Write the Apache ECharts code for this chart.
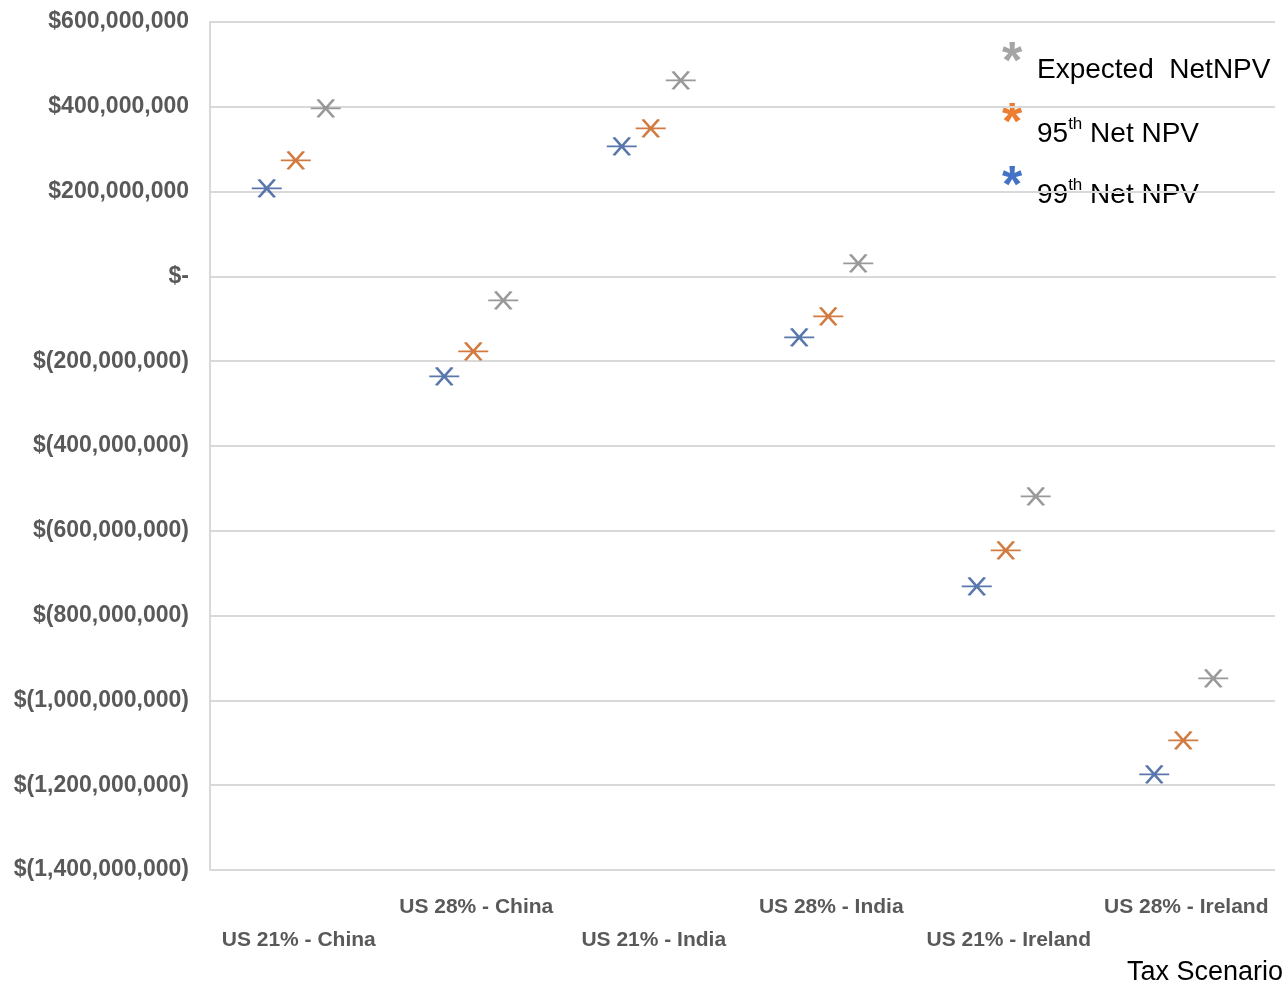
<!DOCTYPE html>
<html>
<head>
<meta charset="utf-8">
<script src="https://cdn.jsdelivr.net/npm/echarts@6/dist/echarts.min.js"></script>
<style>
  html, body { margin: 0; padding: 0; background: #ffffff; }
  #chart { width: 1288px; height: 983px; }
</style>
</head>
<body>
<div id="chart"></div>
<script>
// Tax scenarios on the category axis
const scenarios = [
  'US 21% - China', 'US 28% - China',
  'US 21% - India', 'US 28% - India',
  'US 21% - Ireland', 'US 28% - Ireland'
];

// Net NPV per scenario (USD)
const npv99th = [207500000, -235800000, 306600000, -143900000, -731100000, -1174500000];
const npv95th = [273600000, -176900000, 349100000, -94300000, -646200000, -1094300000];
const npvExpected = [396200000, -56600000, 462300000, 30700000, -518900000, -948100000];

// Value axis range and step
const yMin = -1400000000;
const yMax = 600000000;
const yStep = 200000000;

const seriesNames = ['Expected  NetNPV', '95th Net NPV', '99th Net NPV'];

const labelFont = '"Liberation Sans", Arial, sans-serif';
const axisGrey = '#595959';

function money(v) {
  if (v === 0) return '$-';
  const s = Math.abs(v).toLocaleString('en-US');
  return v < 0 ? '$(' + s + ')' : '$' + s;
}

// Excel-style star marker: horizontal bar crossed by an X
const starPath = 'path://M-15,0L15,0M-8,-8L8,8M-8,8L8,-8';

function starSeries(name, data, color, dx) {
  return {
    name: name,
    type: 'scatter',
    data: data,
    symbol: starPath,
    symbolSize: [30, 18],
    symbolOffset: [dx, 0],
    itemStyle: { color: 'none', borderColor: color, borderWidth: 2.4 },
    emphasis: { disabled: true },
    z: 3
  };
}

const legendItems = [
  { mark: '#a5a5a5', text: '{t|Expected  NetNPV}', y: 53, ty: 70 },
  { mark: '#ed7d31', text: '{t|95}{s|th}{t| Net NPV}', y: 114, ty: 130 },
  { mark: '#4472c4', text: '{t|99}{s|th}{t| Net NPV}', y: 177, ty: 191 }
];

const legendRich = {
  t: { fontFamily: labelFont, fontSize: 28, color: '#000000', lineHeight: 32, verticalAlign: 'bottom' },
  s: { fontFamily: labelFont, fontSize: 17, color: '#000000', lineHeight: 32, verticalAlign: 'top' }
};

const graphics = [];
legendItems.forEach(function (it) {
  graphics.push({
    type: 'text', left: 1002, top: it.y - 15,
    style: { text: '*', fill: it.mark, font: 'bold 52px ' + labelFont }
  });
  graphics.push({
    type: 'text', left: 1037, top: it.ty - 14,
    style: { text: it.text, rich: legendRich }
  });
});
graphics.push({
  type: 'text', right: 5, top: 959,
  style: { text: 'Tax Scenario', fill: '#000000', font: '27px ' + labelFont }
});

const chart = echarts.init(document.getElementById('chart'), null, { renderer: 'canvas' });
chart.setOption({
  animation: false,
  backgroundColor: '#ffffff',
  grid: { left: 210, right: 13, top: 22, bottom: 113, containLabel: false },
  xAxis: {
    type: 'category',
    data: scenarios,
    boundaryGap: true,
    axisLine: { show: true, lineStyle: { color: '#d9d9d9', width: 2 } },
    axisTick: { show: false },
    splitLine: { show: false },
    axisLabel: {
      interval: 0,
      margin: 25,
      verticalAlign: 'top',
      formatter: function (v, i) {
        return i % 2 === 0 ? '{lo|' + v + '}' : '{hi|' + v + '}';
      },
      rich: {
        hi: { fontFamily: labelFont, fontWeight: 'bold', fontSize: 21, color: axisGrey, lineHeight: 24 },
        lo: { fontFamily: labelFont, fontWeight: 'bold', fontSize: 21, color: axisGrey, lineHeight: 24, padding: [66, 0, 0, 0] }
      }
    }
  },
  yAxis: {
    type: 'value',
    min: yMin,
    max: yMax,
    interval: yStep,
    axisLine: { show: true, lineStyle: { color: '#d9d9d9', width: 2 } },
    axisTick: { show: false },
    splitLine: { show: true, lineStyle: { color: '#d9d9d9', width: 2 } },
    axisLabel: {
      margin: 21,
      fontFamily: labelFont,
      fontWeight: 'bold',
      fontSize: 23,
      color: axisGrey,
      formatter: money
    }
  },
  series: [
    starSeries(seriesNames[2], npv99th, '#2f5597', -32),
    starSeries(seriesNames[1], npv95th, '#c55a11', -3),
    starSeries(seriesNames[0], npvExpected, '#7f7f7f', 27)
  ],
  graphic: graphics
});
</script>
</body>
</html>
